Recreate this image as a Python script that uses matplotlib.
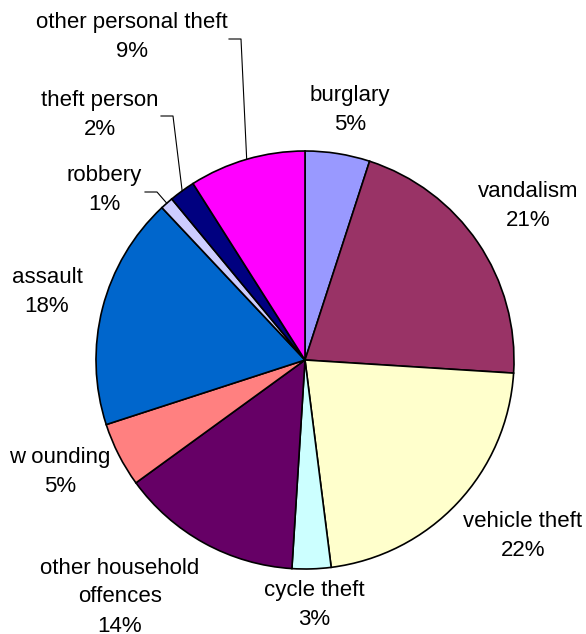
import numpy as np
import matplotlib.pyplot as plt

plt.rcParams['font.family'] = ['Liberation Sans', 'DejaVu Sans']

# crime categories, clockwise from 12 o'clock
categories = ["burglary", "vandalism", "vehicle theft", "cycle theft",
              "other household\noffences", "w ounding", "assault",
              "robbery", "theft person", "other personal theft"]
shares = [5, 21, 22, 3, 14, 5, 18, 1, 2, 9]
colors = ["#9999FF", "#993366", "#FFFFCC", "#CCFFFF", "#660066",
          "#FF8080", "#0066CC", "#CCCCFF", "#000080", "#FF00FF"]

# label block centres in pixel space (x, y from top)
label_pos = [(350, 110), (528, 206), (523, 536), (314, 605), (120, 597),
             (60, 472), (47, 292), (104, 190), (100, 115), (132, 37)]

W, H = 586, 634
cx, cy, r = 305, 360, 209

fig = plt.figure(figsize=(W / 100, H / 100), dpi=100)
ax = fig.add_axes([0, 0, 1, 1])
ax.set_xlim(0, W)
ax.set_ylim(0, H)
ax.set_aspect('equal')
ax.axis('off')

wedges, _ = ax.pie(shares, colors=colors, startangle=90, counterclock=False,
                   center=(cx, H - cy), radius=r,
                   wedgeprops=dict(edgecolor='black', linewidth=1.2))
ax.set_xlim(0, W)
ax.set_ylim(0, H)

for name, val, (lx, ly) in zip(categories, shares, label_pos):
    ax.text(lx, H - ly, f"{name}\n{val}%", ha='center', va='center',
            fontsize=16, linespacing=1.5, color='black')

# leader lines for the small slices (robbery, theft person, other personal theft)
total = sum(shares)
cum = np.cumsum([0] + shares)
for idx, (x0, y0) in [(7, (145, 192)), (8, (161, 116)), (9, (229, 39))]:
    mid = cum[idx] + shares[idx] / 2
    ang = np.deg2rad(90 - 360 * mid / total)
    ex, ey = cx + r * np.cos(ang), (H - cy) + r * np.sin(ang)
    ax.plot([x0, x0 + 12, ex], [H - y0, H - y0, ey], color='black', lw=0.8)

fig.savefig("out.png", dpi=100, facecolor='white')
